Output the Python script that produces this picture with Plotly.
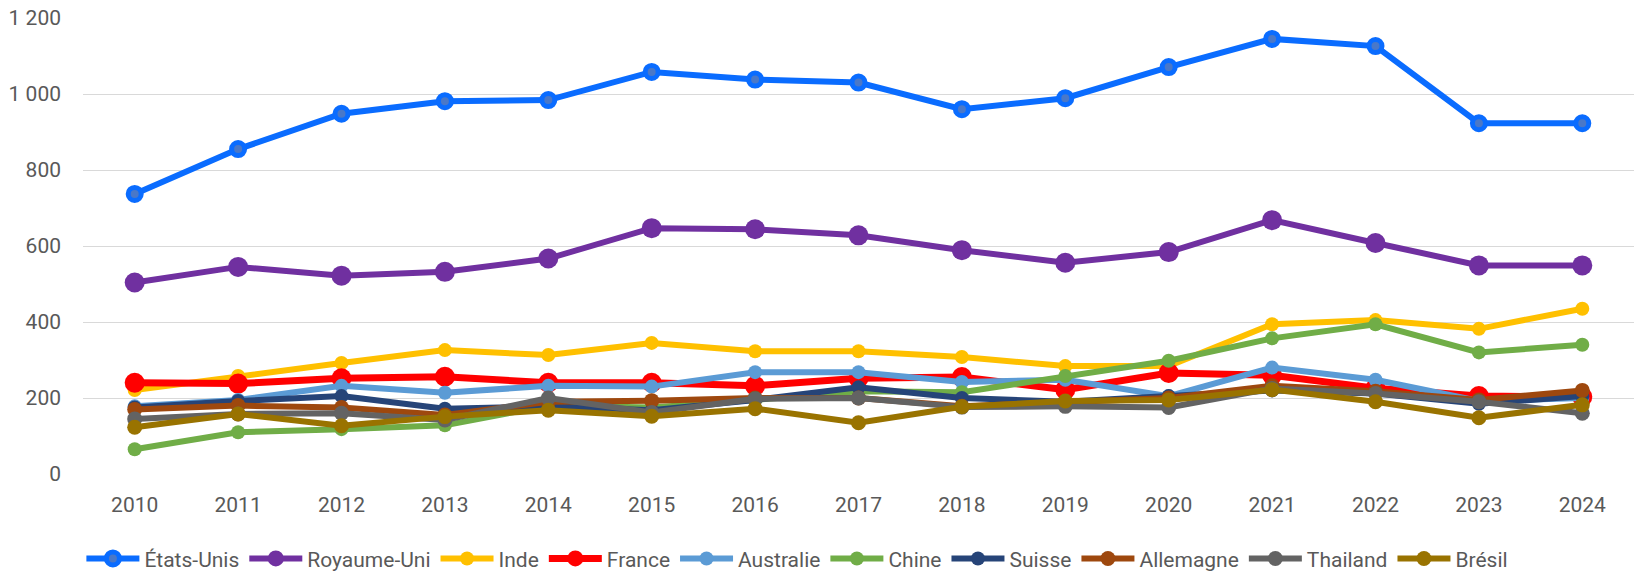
import plotly.graph_objects as go

years = [str(y) for y in range(2010, 2025)]

etats_unis = [737, 855, 948, 981, 984, 1058, 1038, 1030, 960, 989, 1071, 1145, 1126, 923, 923]
royaume_uni = [504, 545, 522, 532, 567, 647, 644, 628, 589, 556, 584, 668, 608, 549, 549]
inde = [221, 258, 292, 326, 313, 345, 323, 323, 308, 284, 284, 394, 405, 382, 435]
france = [240, 238, 252, 256, 240, 240, 232, 252, 255, 222, 266, 260, 226, 205, 203]
australie = [178, 195, 232, 214, 232, 230, 268, 268, 242, 248, 205, 280, 248, 192, 200]
chine = [65, 110, 118, 128, 180, 175, 195, 218, 215, 258, 298, 357, 394, 320, 340]
suisse = [175, 192, 205, 172, 178, 168, 195, 228, 200, 190, 205, 220, 212, 185, 205]
allemagne = [170, 180, 175, 155, 190, 193, 200, 200, 178, 190, 200, 232, 218, 195, 220]
thailand = [145, 158, 160, 142, 200, 162, 198, 200, 176, 178, 175, 225, 212, 190, 160]
bresil = [123, 158, 127, 151, 168, 152, 172, 135, 177, 192, 195, 222, 190, 148, 182]

series_names = ["États-Unis", "Royaume-Uni", "Inde", "France", "Australie",
                "Chine", "Suisse", "Allemagne", "Thailand", "Brésil"]
series_values = [etats_unis, royaume_uni, inde, france, australie,
                 chine, suisse, allemagne, thailand, bresil]

y_tick_values = [0, 200, 400, 600, 800, 1000, 1200]
y_tick_labels = ["0", "200", "400", "600", "800", "1 000", "1 200"]

colors = ["#0A6CFF", "#7030A0", "#FFC000", "#FF0000", "#5B9BD5",
          "#70AD47", "#264478", "#9E480E", "#636363", "#997300"]
line_widths = [6, 6, 6, 7, 6, 6, 6, 6, 6, 6]
marker_sizes = [13, 20, 14, 20, 14, 14, 14, 15, 15, 15]

fig = go.Figure()
for i, (name, vals) in enumerate(zip(series_names, series_values)):
    marker = dict(size=marker_sizes[i], color=colors[i])
    if i == 0:
        marker = dict(size=marker_sizes[i], color="#4A78C8",
                      line=dict(color=colors[i], width=5))
    fig.add_trace(go.Scatter(
        x=years, y=vals, name=name, mode="lines+markers",
        line=dict(color=colors[i], width=line_widths[i]),
        marker=marker, cliponaxis=False,
    ))

font_family = "Roboto, sans-serif"
fig.update_layout(
    width=1634, height=573,
    paper_bgcolor="white", plot_bgcolor="white",
    margin=dict(l=83, r=0, t=18, b=99, autoexpand=False),
    font=dict(family=font_family, size=21, color="#595959"),
    showlegend=True,
    legend=dict(orientation="h", x=0.488, xanchor="center", xref="container",
                y=-0.186, yanchor="middle", font=dict(size=21, color="#595959"),
                itemwidth=53, tracegroupgap=0, bgcolor="rgba(0,0,0,0)"),
    xaxis=dict(type="category", range=[-0.5, 14.5], showgrid=False,
               showline=False, ticks="", zeroline=False,
               ticklabelstandoff=16,
               tickfont=dict(size=21, color="#595959")),
    yaxis=dict(range=[0, 1200], tickvals=y_tick_values, ticktext=y_tick_labels,
               showgrid=True, gridcolor="#D9D9D9", gridwidth=1.4,
               zeroline=False, showline=False, ticks="",
               ticklabelstandoff=21,
               tickfont=dict(size=21, color="#595959")),
)

fig.write_html("out.html", config={"displayModeBar": False},
               post_script="document.body.style.margin='0';document.body.style.padding='0';")
